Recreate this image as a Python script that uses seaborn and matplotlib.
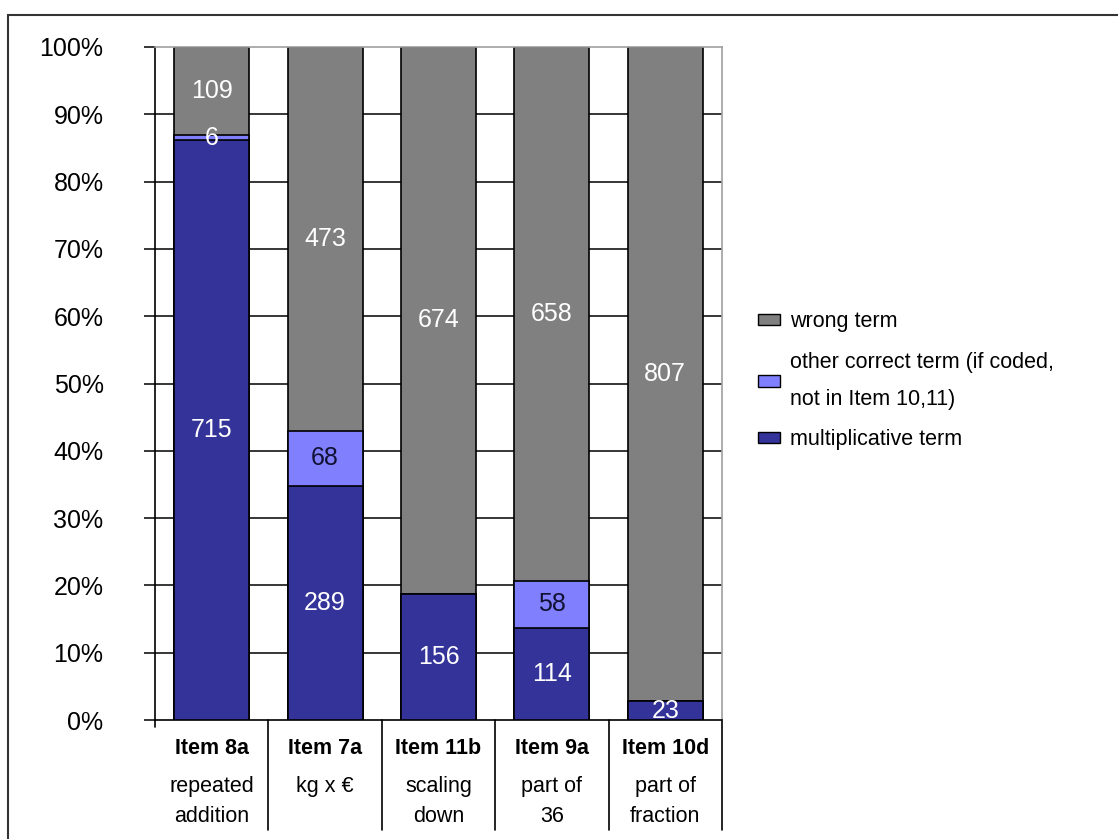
import numpy as np
import pandas as pd
import matplotlib.pyplot as plt
import seaborn as sns
from matplotlib.patches import Rectangle, Patch
from matplotlib.transforms import blended_transform_factory

# Data (counts per item)
items = ["Item 8a", "Item 7a", "Item 11b", "Item 9a", "Item 10d"]
descriptions = ["repeated\naddition", "kg x \u20ac", "scaling\ndown", "part of\n36", "part of\nfraction"]
multiplicative = [715, 289, 156, 114, 23]
other_correct = [6, 68, 0, 58, 0]
wrong = [109, 473, 674, 658, 807]

c_wrong = "#808080"
c_other = "#8080ff"
c_mult = "#333399"

sns.set_style("white")
plt.rcParams["font.family"] = ["Liberation Sans", "DejaVu Sans"]
plt.rcParams["text.color"] = "black"
plt.rcParams["ytick.color"] = "black"
plt.rcParams["xtick.color"] = "black"

df = pd.DataFrame({"item": items, "mult": multiplicative,
                   "other": other_correct, "wrong": wrong})
total = df["mult"] + df["other"] + df["wrong"]
df["p_mult"] = df["mult"] / total * 100
df["p_other"] = df["other"] / total * 100
df["p_wrong"] = df["wrong"] / total * 100
df["cum_other"] = df["p_mult"] + df["p_other"]
df["cum_wrong"] = df["cum_other"] + df["p_wrong"]

fig = plt.figure(figsize=(11.18, 8.39), dpi=100)
ax = fig.add_axes([155 / 1118, 1 - 720 / 839, (722 - 155) / 1118, (720 - 47) / 839])

# gridlines behind bars
for v in range(10, 100, 10):
    ax.axhline(v, color="black", lw=1.1, zorder=0)

# stacked bars by overplotting cumulative heights
bw = 0.66
sns.barplot(data=df, x="item", y="cum_wrong", color=c_wrong, saturation=1,
            width=bw, edgecolor="black", linewidth=1.2, ax=ax, zorder=2)
sns.barplot(data=df, x="item", y="cum_other", color=c_other, saturation=1,
            width=bw, edgecolor="black", linewidth=1.2, ax=ax, zorder=3)
sns.barplot(data=df, x="item", y="p_mult", color=c_mult, saturation=1,
            width=bw, edgecolor="black", linewidth=1.2, ax=ax, zorder=4)

# segment labels
for i, r in df.iterrows():
    ax.text(i, r["p_mult"] / 2, str(r["mult"]), ha="center", va="center",
            color="white", fontsize=18, zorder=5)
    if r["other"] > 0:
        col = "white" if r["other"] < 20 else "#111133"
        ax.text(i, r["p_mult"] + r["p_other"] / 2, str(r["other"]), ha="center",
                va="center", color=col, fontsize=18, zorder=5)
    ax.text(i, r["cum_other"] + r["p_wrong"] / 2, str(r["wrong"]), ha="center",
            va="center", color="white", fontsize=18, zorder=5)

ax.set_xlim(-0.5, len(items) - 0.5)
ax.set_ylim(0, 100)
ax.set_yticks(range(0, 101, 10))
ax.set_yticklabels([f"{v}%" for v in range(0, 101, 10)], fontsize=18)
ax.tick_params(axis="y", direction="out", length=8, width=1.1, pad=29, left=True,
               colors="black")
ax.set_xticks([])
ax.set_xlabel("")
ax.set_ylabel("")

for s in ["left", "bottom"]:
    ax.spines[s].set_color("black")
    ax.spines[s].set_linewidth(1.2)
for s in ["top", "right"]:
    ax.spines[s].set_color("#a0a0a0")
    ax.spines[s].set_linewidth(1.2)

# category table below the axis
trans = blended_transform_factory(ax.transData, ax.transAxes)
for k in range(len(items)):
    ax.plot([k + 0.5, k + 0.5], [0, -0.163], transform=trans, color="black",
            lw=1.2, clip_on=False)
ax.plot([-0.5, -0.5], [0, -0.01], transform=trans, color="black", lw=1.2, clip_on=False)
for i, (it, d) in enumerate(zip(items, descriptions)):
    ax.text(i, -0.042, it, transform=trans, ha="center", va="center",
            fontsize=15.5, fontweight="bold")
    ax.text(i, -0.083, d, transform=trans, ha="center", va="top",
            fontsize=15.5, linespacing=1.55)

# legend
handles = [Patch(facecolor=c_wrong, edgecolor="black", label="wrong term"),
           Patch(facecolor=c_other, edgecolor="black",
                 label="other correct term (if coded,\nnot in Item 10,11)"),
           Patch(facecolor=c_mult, edgecolor="black", label="multiplicative term")]
leg = fig.legend(handles=handles, loc="upper left",
                 bbox_to_anchor=(739 / 1118, 1 - 292 / 839), frameon=False,
                 fontsize=15.5, handlelength=1.0, handleheight=0.45,
                 handletextpad=0.45, labelspacing=0.9)
leg.get_texts()[1].set_linespacing(2.0)

# outer frame
fig.patches.append(Rectangle((8 / 1118, -0.2), 1.2, 1.2 - 15 / 839, transform=fig.transFigure,
                             fill=False, edgecolor="#333333", lw=1.5))

fig.savefig("out.png", dpi=100)
